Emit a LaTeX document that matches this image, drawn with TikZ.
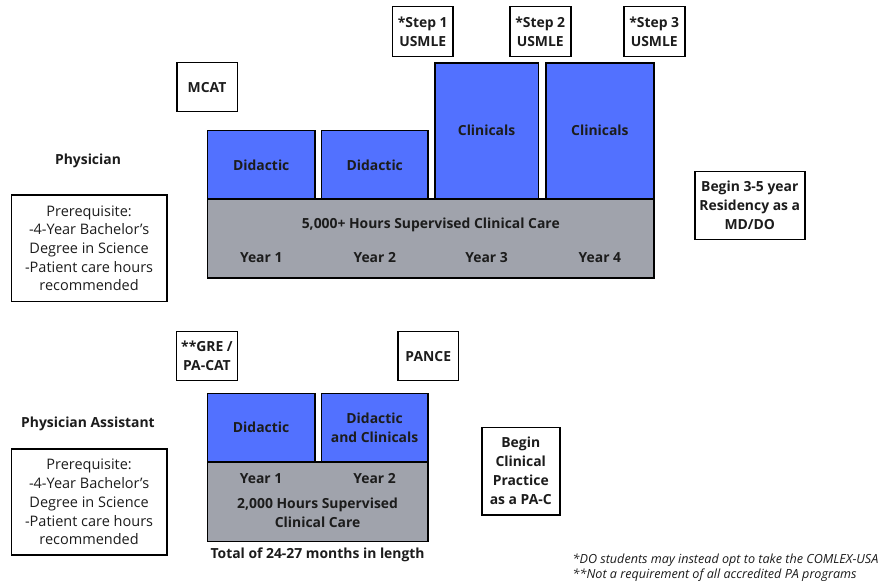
\documentclass[tikz,border=0pt]{standalone}
\usepackage{fontspec}
\setmainfont{Open Sans}
\definecolor{blu}{RGB}{82,113,255}
\definecolor{gry}{RGB}{160,163,172}
\definecolor{ink}{RGB}{28,28,28}
\begin{document}
\begin{tikzpicture}[x=1pt,y=-1pt,
 box/.style={draw=black, line width=1.5pt, inner sep=0pt, anchor=north west, font=\fontsize{13.9}{19}\selectfont\bfseries, text=ink, align=center},
 bluebox/.style={box, fill=blu},
 graybox/.style={box, fill=gry},
 regbox/.style={box, font=\fontsize{14.5}{18.7}\selectfont},
 bt/.style={font=\fontsize{13.9}{19}\selectfont\bfseries, text=ink, align=center, inner sep=0pt},
 foot/.style={font=\fontsize{12.6}{15}\selectfont\itshape, text=ink, anchor=west, inner sep=0pt},
]
\useasboundingbox (0,0) rectangle (892,585);

% ---------- Physician ----------
\node[bt] (phys) at (88,160.5) {Physician};
\node[regbox, minimum width=155.3pt, minimum height=106.4pt] (pre1) at (10.7,194.3)
  {Prerequisite:\\-4-Year Bachelor’s\\Degree in Science\\-Patient care hours\\recommended};
\node[box, minimum width=60.5pt, minimum height=49pt] (mcat) at (176,62) {MCAT};
\node[box, minimum width=60.6pt, minimum height=49.7pt] (s1) at (391.7,6) {*Step 1\\USMLE};
\node[box, minimum width=61pt, minimum height=49.7pt] (s2) at (509,6) {*Step 2\\USMLE};
\node[box, minimum width=61pt, minimum height=49.7pt] (s3) at (623,6) {*Step 3\\USMLE};

\node[bluebox, minimum width=107.6pt, minimum height=68.3pt] (d1) at (206.7,130) {Didactic};
\node[bluebox, minimum width=106.6pt, minimum height=68.3pt] (d2) at (320.7,130) {Didactic};
\node[bluebox, minimum width=103.7pt, minimum height=136pt] (c1) at (434,62.3) {};
\node[bluebox, minimum width=108.3pt, minimum height=136pt] (c2) at (545,62.3) {};
\node[bt] (c1t) at (c1.north |- 0,130) {Clinicals};
\node[bt] (c2t) at (c2.north |- 0,130) {Clinicals};

\node[graybox, minimum width=446.6pt, minimum height=79pt] (g1) at (206.7,198.3) {};
\node[bt] (g1t) at (g1.north |- 0,225) {5,000+ Hours Supervised Clinical Care};
\node[bt] (y1) at (d1.south |- 0,257.3) {Year 1};
\node[bt] (y2) at (d2.south |- 0,257.3) {Year 2};
\node[bt] (y3) at (c1.south |- 0,257.3) {Year 3};
\node[bt] (y4) at (c2.south |- 0,257.3) {Year 4};

\node[box, minimum width=110pt, minimum height=68pt] (res) at (694,171)
  {Begin 3-5 year\\Residency as a\\MD/DO};

% ---------- Physician Assistant ----------
\node[bt] (pa) at (88,424) {Physician Assistant};
\node[regbox, minimum width=155.3pt, minimum height=106pt] (pre2) at (10.7,448.3)
  {Prerequisite:\\-4-Year Bachelor’s\\Degree in Science\\-Patient care hours\\recommended};
\node[box, minimum width=61pt, minimum height=49.3pt] (gre) at (175.7,330.7) {**GRE /\\PA-CAT};
\node[box, minimum width=60.4pt, minimum height=49.3pt] (pance) at (397.3,330.7) {PANCE};

\node[bluebox, minimum width=107.3pt, minimum height=68.3pt] (pd1) at (206.7,392.7) {Didactic};
\node[bluebox, minimum width=106.3pt, minimum height=68.3pt] (pd2) at (320.7,392.7) {Didactic\\and Clinicals};
\node[graybox, minimum width=220.3pt, minimum height=79.7pt] (g2) at (206.7,461) {};
\node[bt] (py1) at (pd1.south |- 0,478.3) {Year 1};
\node[bt] (py2) at (pd2.south |- 0,478.3) {Year 2};
\node[bt] (g2t) at (g2.north |- 0,512.5) {2,000 Hours Supervised\\Clinical Care};
\node[bt] (tot) at (g2.south |- 0,555) {Total of 24-27 months in length};

\node[box, minimum width=78pt, minimum height=87.3pt] (beg) at (481,426.7)
  {Begin\\Clinical\\Practice\\as a PA-C};

% ---------- Footnotes ----------
\node[foot] (f1) at (572.5,560) {*DO students may instead opt to take the COMLEX-USA};
\node[foot] (f2) at (572.5,575.5) {**Not a requirement of all accredited PA programs};
\end{tikzpicture}
\end{document}
